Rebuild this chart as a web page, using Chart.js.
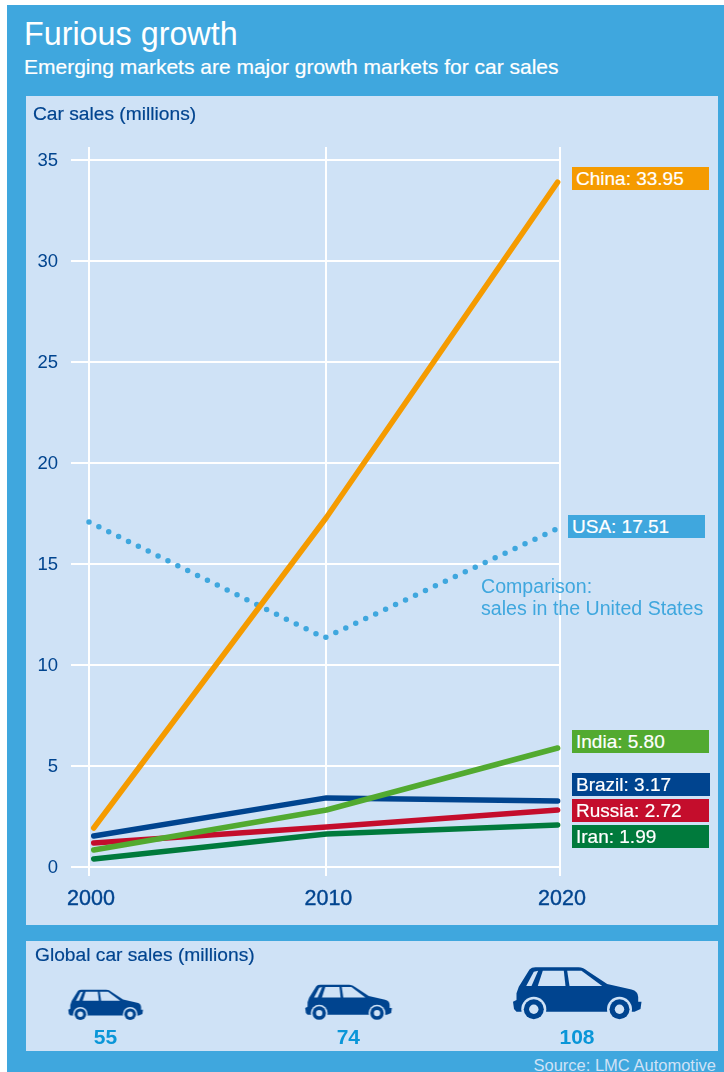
<!DOCTYPE html>
<html>
<head>
<meta charset="utf-8">
<title>Furious growth</title>
<script src="https://cdn.jsdelivr.net/npm/chart.js@4"></script>
<style>
  html, body { margin: 0; padding: 0; background: #fff; }
  body { width: 724px; height: 1072px; position: relative; overflow: hidden; font-family: "Liberation Sans", sans-serif; }
  #frame { position: absolute; left: 7px; top: 5px; width: 717px; height: 1067px; background: #3fa7de; }
  .panel { position: absolute; left: 26px; width: 692px; background: #cfe2f6; }
  .txt { position: absolute; white-space: nowrap; line-height: 1; }
  canvas { position: absolute; left: 0; top: 0; }
  .tag { position: absolute; width: 137px; height: 23px; line-height: 23px; color: #fff; font-size: 19px; text-indent: 4px; white-space: nowrap; -webkit-text-stroke: .2px #fff; }
</style>
</head>
<body>
<div id="frame"></div>
<div class="panel" style="top:96px;height:829px"><canvas id="lineChart" width="692" height="829"></canvas></div>
<div class="panel" style="top:941px;height:110px"><canvas id="carChart" width="692" height="110"></canvas></div>

<div class="txt" style="left:24px;top:18px;font-size:32.3px;color:#fff">Furious growth</div>
<div class="txt" style="left:24px;top:56px;font-size:21px;color:#fff;-webkit-text-stroke:.2px #fff">Emerging markets are major growth markets for car sales</div>
<div class="txt" style="left:33px;top:104px;font-size:19.2px;color:#00448f;-webkit-text-stroke:.2px #00448f">Car sales (millions)</div>
<div class="txt" style="left:35px;top:945px;font-size:19.2px;color:#00448f;-webkit-text-stroke:.2px #00448f">Global car sales (millions)</div>
<div class="txt" style="left:481px;top:575px;font-size:19.6px;color:#3fa7de;line-height:22px">Comparison:<br>sales in the United States</div>
<div class="txt" style="right:8px;top:1057px;font-size:16.5px;color:#cfe2f6">Source: LMC Automotive</div>

<script>
// Car sales (millions)
const lineYears = [2000.2, 2010.08, 2019.9];
const usaYears = [2000, 2010, 2019.8];
const china = [1.93, 17.3, 33.9];
const usa = [17.08, 11.34, 16.7];
const india = [0.84, 2.82, 5.89];
const brazil = [1.53, 3.42, 3.27];
const russia = [1.19, 1.98, 2.82];
const iran = [0.4, 1.63, 2.08];

const gridYears = [2000, 2010.08, 2020];
const yearLabels = ['2000', '2010', '2020'];
const yTicks = [0, 5, 10, 15, 20, 25, 30, 35];

// Right hand labels
const tagNames = ['China', 'USA', 'India', 'Brazil', 'Russia', 'Iran'];
const tagValues = ['33.95', '17.51', '5.80', '3.17', '2.72', '1.99'];

// Global car sales (millions)
const globalSales = [55, 74, 108];
const globalSlots = [2000, 2010.3, 2020];

const tagStyles = [
  { left: 572, top: 167, color: '#f59b00' },
  { left: 568, top: 515, color: '#3fa7de' },
  { left: 572, top: 730, color: '#52aa30' },
  { left: 572, top: 773, color: '#00448f', width: 138 },
  { left: 572, top: 799, color: '#c40d2c' },
  { left: 572, top: 825, color: '#007a3c' }
];

tagNames.forEach((nombre, i) => {
  const s = tagStyles[i];
  const tag = document.createElement('div');
  tag.className = 'tag';
  tag.textContent = `${nombre}: ${tagValues[i]}`;
  tag.style.left = s.left + 'px';
  tag.style.top = s.top + 'px';
  tag.style.background = s.color;
  if (s.width) tag.style.width = s.width + 'px';
  document.body.appendChild(tag);
});

function serie(anios, valores, color) {
  return {
    data: valores.map((v, i) => ({ x: anios[i], y: v })),
    borderColor: color,
    borderWidth: 5.5,
    borderCapStyle: 'round',
    borderJoinStyle: 'round',
    pointRadius: 0,
    showLine: true,
    clip: false
  };
}

// first dataset ends up on top
new Chart(document.getElementById('lineChart').getContext('2d'), {
  type: 'scatter',
  data: {
    datasets: [
      serie(lineYears, india, '#52aa30'),
      serie(lineYears, china, '#f59b00'),
      serie(lineYears, brazil, '#00448f'),
      serie(lineYears, russia, '#c40d2c'),
      serie(lineYears, iran, '#007a3c'),
      Object.assign(serie(usaYears, usa, '#3fa7de'), { borderDash: [0, 11] })
    ]
  },
  options: {
    responsive: false,
    animation: false,
    layout: { padding: { right: 158, top: 51 } },
    plugins: { legend: { display: false }, title: { display: false }, tooltip: { enabled: false } },
    scales: {
      x: {
        type: 'linear',
        min: 2000,
        max: 2020,
        afterBuildTicks: s => { s.ticks = gridYears.map(v => ({ value: v })); },
        afterFit: s => { s.height = 49; },
        grid: { color: '#fff', lineWidth: 2, drawTicks: false },
        border: { display: false },
        ticks: {
          autoSkip: false,
          maxRotation: 0,
          padding: 10,
          labelOffset: 2,
          color: '#00448f',
          font: { family: 'Liberation Sans', size: 21.5 },
          textStrokeColor: '#00448f',
          textStrokeWidth: 0.4,
          callback: (v, i) => yearLabels[i]
        }
      },
      y: {
        min: -0.446,
        max: 35.64,
        afterBuildTicks: s => { s.ticks = yTicks.map(v => ({ value: v })); },
        afterFit: s => { s.width = 63; },
        grid: { color: '#fff', lineWidth: 2, tickColor: '#fff', tickLength: 18 },
        border: { display: false },
        ticks: {
          padding: 13,
          labelOffset: 1,
          color: '#00448f',
          font: { family: 'Liberation Sans', size: 18.5 }
        }
      }
    }
  }
});

// car pictogram, drawn bottom aligned on a common sized sprite
const carWidths = [75, 87, 129];

function carSprite(ancho) {
  const c = document.createElement('canvas');
  c.width = 132;
  c.height = 56;
  const g = c.getContext('2d');
  const k = ancho / 129;
  g.translate((132 - ancho) / 2, 56 - 54 * k);
  g.scale(k, k);

  g.fillStyle = '#00448f';
  g.beginPath();
  g.moveTo(23, 0.3);
  g.lineTo(66, 0.3);
  g.quadraticCurveTo(71, 0.5, 75, 4);
  g.lineTo(94.7, 17);
  g.lineTo(119, 22.5);
  g.quadraticCurveTo(125.5, 24, 125.7, 30);
  g.lineTo(125.7, 34.7);
  g.lineTo(129, 34.7);
  g.lineTo(128, 42);
  g.lineTo(122, 44.7);
  g.lineTo(4, 44.7);
  g.lineTo(1.5, 42);
  g.lineTo(0.5, 34.7);
  g.lineTo(4, 33);
  g.lineTo(4, 26.3);
  g.lineTo(6.3, 19.7);
  g.lineTo(17, 2.5);
  g.quadraticCurveTo(19, 0.3, 23, 0.3);
  g.closePath();
  g.fill();

  g.fillStyle = '#cfe2f6';
  [
    [[13.7, 19], [21.3, 4.7], [25.7, 3.7], [19, 19]],
    [[25.3, 19], [30.3, 3.7], [51.3, 3.7], [53, 19]],
    [[57, 19], [54.7, 3.7], [69, 3.7], [89.7, 19]]
  ].forEach(v => {
    g.beginPath();
    v.forEach((p, i) => (i ? g.lineTo(p[0], p[1]) : g.moveTo(p[0], p[1])));
    g.closePath();
    g.fill();
  });

  [21.3, 107].forEach(x => {
    [[12.5, '#cfe2f6'], [10, '#00448f'], [4.7, '#cfe2f6']].forEach(([r, col]) => {
      g.fillStyle = col;
      g.beginPath();
      g.arc(x, 42.3, r, 0, Math.PI * 2);
      g.fill();
    });
  });
  return c;
}

new Chart(document.getElementById('carChart').getContext('2d'), {
  type: 'scatter',
  data: {
    datasets: [{
      data: globalSales.map((v, i) => ({ x: globalSlots[i], y: 0 })),
      pointStyle: carWidths.map(carSprite),
      clip: false
    }]
  },
  options: {
    responsive: false,
    animation: false,
    layout: { padding: { left: 79.5, right: 141, top: 24 } },
    plugins: { legend: { display: false }, title: { display: false }, tooltip: { enabled: false } },
    scales: {
      x: {
        type: 'linear',
        min: 2000,
        max: 2020,
        afterBuildTicks: s => { s.ticks = globalSlots.map(v => ({ value: v })); },
        afterFit: s => { s.height = 30; },
        grid: { display: false, drawTicks: false },
        border: { display: false },
        ticks: {
          autoSkip: false,
          maxRotation: 0,
          padding: 5,
          color: '#0a96d8',
          font: { family: 'Liberation Sans', size: 21, weight: 'bold' },
          callback: (v, i) => String(globalSales[i])
        }
      },
      y: { display: false, min: -1, max: 1 }
    }
  }
});
</script>
</body>
</html>
